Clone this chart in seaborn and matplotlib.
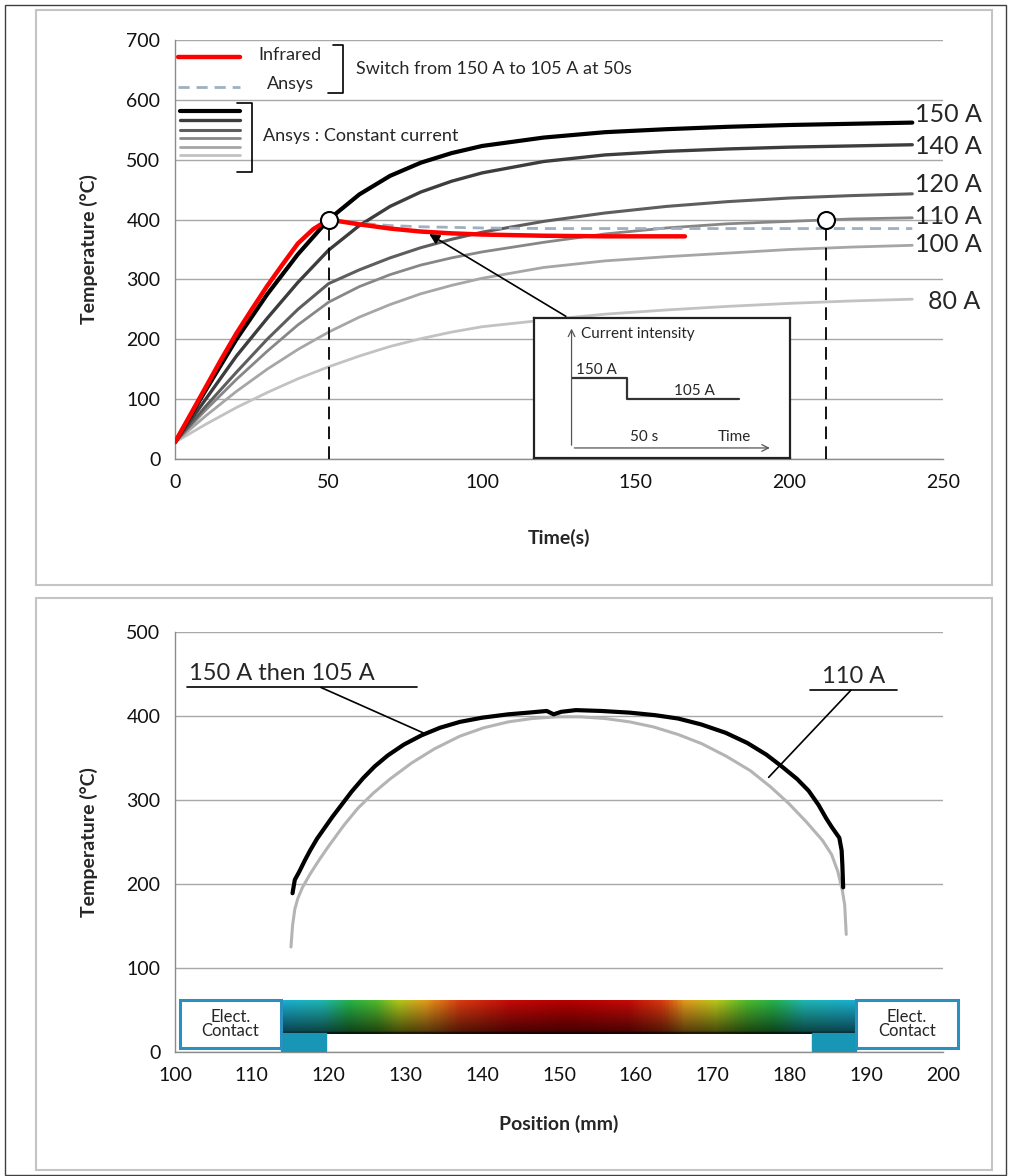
"""Heating curves (top) and temperature profile along the bar (bottom)."""
import numpy as np
import pandas as pd
import matplotlib
matplotlib.use("Agg")
import matplotlib.pyplot as plt
from matplotlib.colors import LinearSegmentedColormap
from matplotlib.patches import Rectangle
import seaborn as sns

# ---------------- data: top panel (temperature vs time) ----------------
time_s = [0, 10, 20, 30, 40, 50, 60, 70, 80, 90, 100, 120, 140, 160, 180, 200, 220, 240]
temp_150a = [28, 115, 200, 275, 342, 400, 442, 473, 495, 511, 523, 537, 546, 551, 555, 558, 560, 562]
temp_140a = [28, 100, 172, 235, 295, 349, 390, 422, 446, 464, 478, 497, 508, 514, 518, 521, 523, 525]
temp_120a = [28, 88, 145, 200, 250, 293, 316, 336, 353, 367, 379, 397, 411, 422, 430, 436, 440, 443]
temp_110a = [28, 82, 133, 180, 224, 262, 288, 308, 324, 336, 346, 362, 376, 386, 393, 397, 401, 403]
temp_100a = [28, 72, 113, 150, 183, 212, 237, 258, 276, 290, 302, 320, 331, 338, 344, 350, 354, 357]
temp_80a = [28, 58, 86, 111, 134, 154, 172, 188, 201, 212, 221, 232, 242, 249, 255, 260, 264, 267]
currents = ["150 A", "140 A", "120 A", "110 A", "100 A", "80 A"]

ir_time = [0, 5, 10, 15, 20, 25, 30, 35, 40, 45, 50, 55, 60, 70, 80, 90, 100, 120, 140, 166]
ir_temp = [28, 74, 120, 166, 210, 250, 289, 325, 360, 384, 400, 396, 392, 385, 380, 377, 375,
           373, 372, 372]

switch_time = [50, 60, 70, 80, 100, 120, 160, 200, 240]
switch_temp = [400, 394, 390, 388, 386, 385, 385, 385, 385]

marker_time = [50, 212]
marker_temp = [400, 400]

inset_time = [0, 50, 152]
inset_current = [150, 105, 105]

# ---------------- data: bottom panel (temperature vs position) ----------------
pos_switch = [115.3, 115.6, 116.2, 116.9, 117.6, 118.5, 119.5, 120.5, 121.5, 123.0, 124.5,
              126.0, 127.7, 129.8, 132.1, 134.5, 137.1, 140.0, 143.4, 146.0, 148.4, 149.3,
              150.3, 152.2, 155.5, 159.2, 162.5, 165.5, 168.5, 171.7, 174.5, 177.0, 179.0,
              181.0, 182.5, 183.8, 184.8, 185.5, 186.5, 186.8, 186.9, 187.0]
temp_switch = [189, 205, 215, 228, 240, 254, 267, 280, 292, 310, 326, 340, 353, 366, 377,
               386, 393, 398, 402, 404, 406, 402, 405, 407, 406, 404, 401, 397, 390, 380,
               368, 354, 340, 325, 311, 294, 278, 268, 255, 240, 222, 196]
pos_110a = [115.1, 115.3, 115.6, 116.0, 116.6, 117.6, 118.8, 120.0, 122.0, 123.8, 125.8,
            128.0, 130.8, 133.8, 137.1, 140.2, 143.4, 146.5, 149.7, 152.8, 156.0, 159.2,
            162.3, 165.5, 168.6, 171.8, 174.9, 177.5, 179.9, 182.2, 184.3, 185.5, 186.3,
            186.9, 187.2, 187.4]
temp_110a_pos = [125, 150, 170, 183, 196, 212, 229, 245, 270, 290, 308, 325, 344, 361, 376,
                 386, 393, 397, 399, 399, 397, 393, 387, 378, 367, 352, 335, 316, 296, 274,
                 252, 235, 215, 192, 175, 140]

strip_pos = [113.8, 119.0, 122.5, 126.0, 129.0, 132.5, 137.0, 143.5, 151.0, 159.0, 163.5,
             166.5, 170.5, 174.5, 178.0, 182.0, 188.7]
strip_hex = ["#1aaed0", "#1fb4b0", "#25b048", "#4fb82c", "#b0c41c", "#e09a1c", "#d63a10",
             "#c20a08", "#b40000", "#c20a08", "#d63a10", "#e09a1c", "#b8c41c", "#4fb82c",
             "#25b048", "#1fb4b0", "#1aaed0"]

# ---------------- style ----------------
sns.set_theme(style="white")
plt.rcParams["font.family"] = ["Lato", "DejaVu Sans"]

line_colors = ["#000000", "#3d3d3d", "#5e5e5e", "#878787", "#a6a6a6", "#c2c2c2"]
line_widths = [3.0, 2.4, 2.2, 2.0, 2.0, 2.0]
GRID = "#a8a8a8"
SPINE = "#8c8c8c"

W, H = 1010, 1176
fig = plt.figure(figsize=(W / 100, H / 100), dpi=100)


def fig_rect(x0, y0, x1, y1, **kw):
    fig.add_artist(Rectangle((x0 / W, 1 - y1 / H), (x1 - x0) / W, (y1 - y0) / H,
                             transform=fig.transFigure, fill=False, **kw))


fig_rect(5, 5, 1006, 1175, edgecolor="#404040", lw=1.0)
fig_rect(36, 10, 992, 585, edgecolor="#c4c4c4", lw=1.5)
fig_rect(36, 598, 992, 1170, edgecolor="#c4c4c4", lw=1.5)


def style_axes(ax):
    for s in ("top", "right"):
        ax.spines[s].set_visible(False)
    for s in ("left", "bottom"):
        ax.spines[s].set_color(SPINE)
        ax.spines[s].set_linewidth(1.0)
    ax.grid(axis="y", color=GRID, lw=1.0)
    ax.set_axisbelow(True)
    ax.tick_params(axis="both", which="both", direction="out", color=SPINE,
                   labelsize=14, labelcolor="#111111")
    ax.tick_params(axis="both", which="major", length=7, width=1)
    ax.tick_params(axis="x", which="minor", length=6, width=1)


# ======================= top panel =======================
ax = fig.add_axes([175 / W, 1 - 459 / H, 768 / W, 419 / H])
style_axes(ax)

df = pd.DataFrame({
    "time": time_s * len(currents),
    "temp": temp_150a + temp_140a + temp_120a + temp_110a + temp_100a + temp_80a,
    "current": np.repeat(currents, len(time_s)),
})
sns.lineplot(data=df, x="time", y="temp", hue="current", size="current",
             hue_order=currents[::-1], size_order=currents[::-1],
             palette=dict(zip(currents, line_colors)),
             sizes=dict(zip(currents, line_widths)),
             estimator=None, legend=False, ax=ax, zorder=2)
sns.lineplot(x=switch_time, y=switch_temp, color="#9fb0c0", lw=2.0,
             linestyle=(0, (4, 2.5)), estimator=None, ax=ax, zorder=3)
sns.lineplot(x=ir_time, y=ir_temp, color="#ff0000", lw=3.2,
             estimator=None, ax=ax, zorder=4)

ax.vlines(marker_time, 0, [t - 8 for t in marker_temp], colors="black", lw=1.3,
          linestyles=(0, (7, 4)), zorder=5)
sns.scatterplot(x=marker_time, y=marker_temp, s=150, color="white", edgecolor="black",
                linewidth=1.5, ax=ax, zorder=6)

ax.set_xlim(0, 250)
ax.set_ylim(0, 700)
ax.set_xticks(range(0, 251, 50))
ax.set_xticks(range(0, 251, 10), minor=True)
ax.set_yticks(range(0, 701, 100))
ax.set_xlabel("Time(s)", fontsize=14, fontweight="bold")
ax.set_ylabel("Temperature (°C)", fontsize=14, fontweight="bold")
ax.xaxis.set_label_coords(0.5, -0.167)
ax.yaxis.set_label_coords(-0.100, 0.5)

# end-of-curve labels
label_y = [575, 522, 458, 405, 358, 263]
label_x = [241, 241, 241, 241, 241, 245]
for name, lx, ly in zip(currents, label_x, label_y):
    ax.text(lx, ly, name, fontsize=18, va="center", ha="left", clip_on=False)

# custom legend (top left)
ax.plot([1, 21], [672, 672], color="#ff0000", lw=3.2)
ax.plot([1, 21], [622, 622], color="#9fb0c0", lw=2.0, linestyle=(0, (4, 2.5)))
ax.text(27, 675, "Infrared", fontsize=13, va="center")
ax.text(30, 626, "Ansys", fontsize=13, va="center")
ax.plot([51.3, 54.6, 54.6, 49.7], [692, 692, 612, 612], color="black", lw=1.2)
ax.text(59, 652, "Switch from 150 A to 105 A at 50s", fontsize=13, va="center")
for ly, c, lw in zip([581, 566, 550, 536, 522, 508], line_colors, line_widths):
    ax.plot([1.6, 21.2], [ly, ly], color=c, lw=lw)
ax.plot([20.3, 25.1, 25.1, 20.3], [595, 595, 480, 480], color="black", lw=1.2)
ax.text(28.8, 539, "Ansys : Constant current", fontsize=13, va="center")

# pointer from the inset to the infrared curve
ax.annotate("", xy=(82, 378), xytext=(128, 236),
            arrowprops=dict(arrowstyle="-|>,head_length=0.5,head_width=0.25",
                            color="black", lw=1.2), zorder=7)

# inset: current schedule
ins = ax.inset_axes([117, 1.7, 83.3, 234.1], transform=ax.transData, zorder=8)
ins.set_facecolor("white")
for s in ins.spines.values():
    s.set_color("#222222")
    s.set_linewidth(1.6)
ins.set_xticks([])
ins.set_yticks([])
ins.set_xlim(-33.6, 198)
ins.set_ylim(-21.5, 279)
ins.plot(inset_time, inset_current, drawstyle="steps-post", color="#333333", lw=1.6)
ins.annotate("", xy=(0, 262), xytext=(0, 0),
             arrowprops=dict(arrowstyle="->", color="#555555", lw=0.9))
ins.annotate("", xy=(182, 0), xytext=(0, 0),
             arrowprops=dict(arrowstyle="->", color="#555555", lw=0.9))
ins.text(9, 245, "Current intensity", fontsize=11, va="center")
ins.text(4, 153, "150 A", fontsize=11, va="bottom")
ins.text(93, 108, "105 A", fontsize=11, va="bottom")
ins.text(53, 23, "50 s", fontsize=11, va="center")
ins.text(132, 23, "Time", fontsize=11, va="center")

# ======================= bottom panel =======================
bx = fig.add_axes([175 / W, 1 - 1052 / H, 768 / W, 420 / H])
style_axes(bx)

sns.lineplot(x=pos_110a, y=temp_110a_pos, color="#b4b4b4", lw=2.2, sort=False,
             estimator=None, ax=bx, zorder=3)
sns.lineplot(x=pos_switch, y=temp_switch, color="black", lw=3.0, sort=False,
             estimator=None, ax=bx, zorder=4)

# coloured bar picture between the electrical contacts
strip_cmap = LinearSegmentedColormap.from_list(
    "strip", list(zip([(p - strip_pos[0]) / (strip_pos[-1] - strip_pos[0]) for p in strip_pos],
                      strip_hex)))
cols = strip_cmap(np.linspace(0, 1, 400))[:, :3]
shade = np.linspace(1.0, 0.35, 30)
shade[-2:] = 0.15
img = cols[None, :, :] * shade[:, None, None]
bx.imshow(img, extent=[strip_pos[0], strip_pos[-1], 22, 61.5], aspect="auto",
          interpolation="bilinear", zorder=3)
bx.add_patch(Rectangle((113.8, 1), 5.8, 21.5, color="#1896b6", zorder=3))
bx.add_patch(Rectangle((183.0, 1), 5.7, 21.5, color="#1896b6", zorder=3))
for x0 in (100.6, 188.7):
    bx.add_patch(Rectangle((x0, 4.4), 13.2, 57.1, facecolor="white", edgecolor="#2a90c0",
                           lw=2.2, zorder=5, clip_on=False))
    bx.text(x0 + 6.6, 33, "Elect.\nContact", fontsize=12, ha="center", va="center",
            linespacing=0.85, zorder=6, clip_on=False)

# callouts
bx.text(101.8, 438, "150 A then 105 A", fontsize=17, va="bottom", ha="left")
bx.plot([101.6, 131.5], [434, 434], color="black", lw=1.2)
bx.plot([119.0, 132.3], [434, 380], color="black", lw=1.2)
bx.text(188.3, 434, "110 A", fontsize=17, va="bottom", ha="center")
bx.plot([182.7, 194.0], [430.6, 430.6], color="black", lw=1.2)
bx.plot([188.0, 177.3], [430.6, 327], color="black", lw=1.2)

bx.set_xlim(100, 200)
bx.set_ylim(0, 500)
bx.set_xticks(range(100, 201, 10))
bx.set_yticks(range(0, 501, 100))
bx.set_xlabel("Position (mm)", fontsize=14, fontweight="bold")
bx.set_ylabel("Temperature (°C)", fontsize=14, fontweight="bold")
bx.xaxis.set_label_coords(0.5, -0.15)
bx.yaxis.set_label_coords(-0.100, 0.5)

fig.savefig("out.png", dpi=100)
